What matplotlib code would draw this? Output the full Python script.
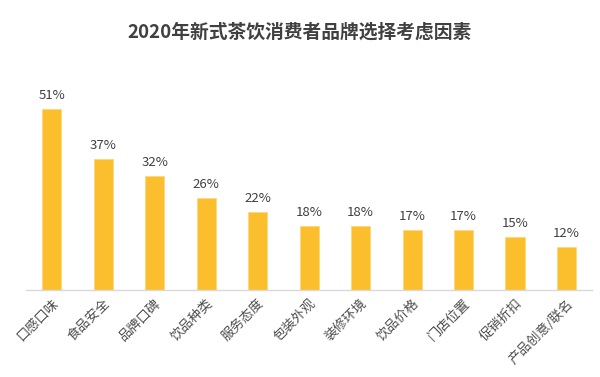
import matplotlib.pyplot as plt
import numpy as np

plt.rcParams['font.family'] = ['Noto Sans CJK SC', 'DejaVu Sans']

factors = ['口感口味', '食品安全', '品牌口碑', '饮品种类', '服务态度', '包装外观',
           '装修环境', '饮品价格', '门店位置', '促销折扣', '产品创意/联名']
shares = [51, 37, 32, 26, 22, 18, 18, 17, 17, 15, 12]

fig = plt.figure(figsize=(6, 3.77), dpi=100)
ax = fig.add_axes([0.0433, 0.2308, 0.9437, 0.565])

x = np.arange(len(factors))
ax.bar(x, shares, width=0.37, color='#FBBF2D', edgecolor='#FDD77E', linewidth=0.6)
for xi, v in zip(x, shares):
    ax.text(xi, v + 2.0, f'{v}%', ha='center', va='bottom', fontsize=9.5, color='#404040')

ax.set_xlim(-0.5, len(factors) - 0.5)
ax.set_ylim(0, 60)
ax.set_xticks(x)
ax.set_xticklabels(factors, rotation=45, ha='right', va='top', rotation_mode='anchor',
                   fontsize=9.5, color='#4d4d4d')
ax.tick_params(axis='x', length=0, pad=5)
ax.set_yticks([])
for s in ['top', 'right', 'left']:
    ax.spines[s].set_visible(False)
ax.spines['bottom'].set_color('#D9D9D9')
ax.spines['bottom'].set_linewidth(1)

fig.text(0.5, 0.915, '2020年新式茶饮消费者品牌选择考虑因素', ha='center', va='center',
         fontsize=13.5, fontweight='bold', color='#404040')

fig.savefig('out.png', dpi=100)
